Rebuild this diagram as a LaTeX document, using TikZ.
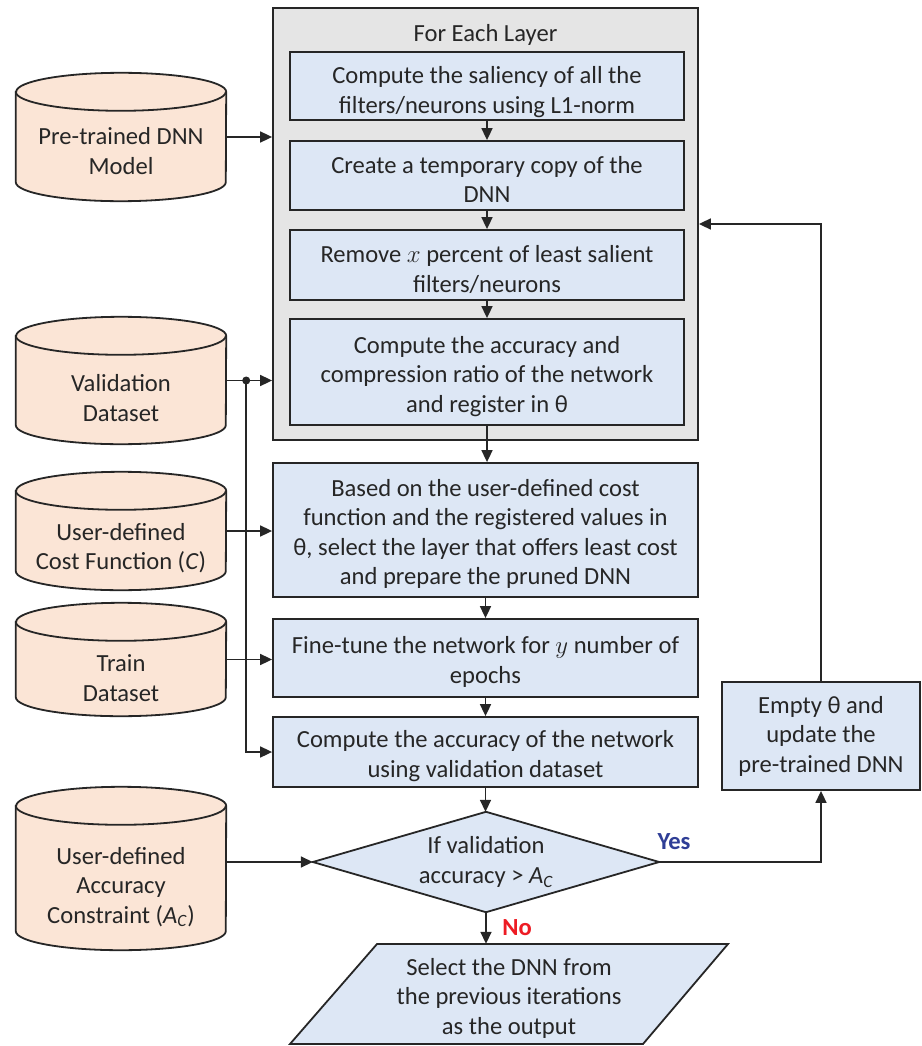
\documentclass[tikz,border=0pt]{standalone}
\usepackage{fontspec}
\setmainfont{Carlito}
\usetikzlibrary{arrows.meta}
\pgfdeclarelayer{bg}
\pgfsetlayers{bg,main}
\definecolor{bord}{HTML}{262626}
\definecolor{bfill}{HTML}{DDE7F5}
\definecolor{cfill}{HTML}{FBE5D6}
\definecolor{gfill}{HTML}{E5E5E5}
\definecolor{yescol}{HTML}{2F3E96}
\definecolor{nocol}{HTML}{ED1C24}
\newcommand\TT{\rule{0pt}{26pt}}
\newcommand\TTT{\rule{0pt}{30pt}}
\newcommand\DD{\rule[-5pt]{0pt}{5pt}}
\newcommand\drawcyl[1]{%
  \begin{pgfonlayer}{bg}
  \path[draw=bord,fill=cfill,line width=1.8pt]
    ([yshift=-19pt]#1.north west) -- ([yshift=19pt]#1.south west)
    arc[start angle=180,end angle=360,x radius=105pt,y radius=19pt]
    -- ([yshift=-19pt]#1.north east)
    arc[start angle=0,end angle=180,x radius=105pt,y radius=19pt] -- cycle;
  \draw[bord,line width=1.8pt] ([yshift=-19pt]#1.north west)
    arc[start angle=180,end angle=360,x radius=105pt,y radius=19pt];
  \end{pgfonlayer}}
\begin{document}
\begin{tikzpicture}[x=1pt,y=1pt,
  every node/.style={font=\fontsize{24.6}{29.5}\selectfont, text=bord},
  box/.style={draw=bord, fill=bfill, line width=1.8pt, align=center, inner sep=2pt},
  inbox/.style={box, minimum width=394pt},
  outbox/.style={box, minimum width=425pt},
  cylbody/.style={minimum width=210pt, inner sep=0pt, draw=none},
  ctext/.style={align=center, inner sep=0pt},
  arr/.style={draw=bord, line width=1.7pt, -{Triangle[length=12pt,width=11pt]}},
  lbl/.style={font=\fontsize{24.6}{29.5}\selectfont\bfseries}
]
\useasboundingbox (0,0) rectangle (921,-1046);

% outer layer box
\node[draw=bord, fill=gfill, line width=1.8pt, minimum width=425pt, minimum height=432pt, inner sep=0pt] (layer) at (485.5,-224) {};
\node[inner sep=0pt] (title) at (485.5,-35) {For Each Layer};

\node[inbox, minimum height=68pt] (b1) at (487,-86) {\TTT Compute the saliency of all the\\filters/neurons using L1-norm\DD};
\node[inbox, minimum height=69pt] (b2) at (487,-175.5) {\TTT Create a temporary copy of the\\DNN\DD};
\node[inbox, minimum height=70pt] (b3) at (487,-265) {\TTT Remove $x$ percent of least salient\\filters/neurons\DD};
\node[inbox, minimum height=106pt] (b4) at (487,-372) {\TT Compute the accuracy and\\compression ratio of the network\\and register in θ\DD};

\node[outbox, minimum height=134pt] (b5) at (485.5,-530) {\TT Based on the user-defined cost\\function and the registered values in\\θ, select the layer that offers least cost\\and prepare the pruned DNN\DD};
\node[outbox, minimum height=78pt] (b6) at (485.5,-658) {\TT Fine-tune the network for $y$ number of\\epochs\DD};
\node[outbox, minimum height=70pt] (b7) at (485.5,-752) {\TT Compute the accuracy of the network\\using validation dataset\DD};

% decision
\node[minimum width=346pt, minimum height=100pt, inner sep=0pt, align=center] (dia) at (486,-862) {If validation\\accuracy > \textit{A}\textsubscript{\textit{C}}};
\begin{pgfonlayer}{bg}
\draw[draw=bord, fill=bfill, line width=1.8pt] (dia.north) -- (dia.east) -- (dia.south) -- (dia.west) -- cycle;
\end{pgfonlayer}

% output parallelogram
\node[minimum width=300pt, minimum height=100pt, inner sep=0pt, align=center] (para) at (509,-994) {\TT Select the DNN from\\the previous iterations\\as the output\DD};
\begin{pgfonlayer}{bg}
\draw[draw=bord, fill=bfill, line width=1.8pt] (377,-944) -- (728,-944) -- (643,-1044) -- (290,-1044) -- cycle;
\end{pgfonlayer}

% update box
\node[box, minimum width=198pt, minimum height=108pt] (emp) at (821,-736) {Empty θ and\\update the\\pre-trained DNN};

% cylinders
\node[cylbody, minimum height=128pt] (c1) at (121,-137) {};
\drawcyl{c1}
\node[ctext] (c1t) at (121,-151) {Pre-trained DNN\\Model};
\node[cylbody, minimum height=127pt] (c2) at (121,-380.5) {};
\drawcyl{c2}
\node[ctext] (c2t) at (121,-398) {Validation\\Dataset};
\node[cylbody, minimum height=118pt] (c3) at (121,-531) {};
\drawcyl{c3}
\node[ctext] (c3t) at (121,-548) {User-defined\\Cost Function (\textit{C})};
\node[cylbody, minimum height=113pt] (c4) at (121,-659.5) {};
\drawcyl{c4}
\node[ctext] (c4t) at (121,-678) {Train\\Dataset};
\node[cylbody, minimum height=163pt] (c5) at (121,-868.5) {};
\drawcyl{c5}
\node[ctext] (c5t) at (121,-887) {User-defined\\Accuracy\\Constraint (\textit{A}\textsubscript{\textit{C}})};

% inner flow
\draw[arr] (b1.south) -- (b2.north);
\draw[arr] (b2.south) -- (b3.north);
\draw[arr] (b3.south) -- (b4.north);
\draw[arr] (b4.south) -- (b4.south |- b5.north);
\draw[arr] (b5.south) -- (b6.north);
\draw[arr] (b6.south) -- (b7.north);
\draw[arr] (b7.south) -- (b7.south |- dia.north);
\draw[arr] (dia.south) -- (dia.south |- para.north);
\draw[arr] (dia.east) -| (emp.south);
\draw[arr] (emp.north) |- (layer.east);

% inputs
\draw[arr] (c1.east) -- (c1.east -| layer.west);
\draw[arr] (c2.east) -- (c2.east -| layer.west);
\coordinate (j) at ([xshift=20pt]c2.east);
\fill[bord] (j) circle (4pt);
\draw[arr] (j) |- (b7.west);
\draw[arr] (c3.east) -- (c3.east -| b5.west);
\draw[arr] (c4.east) -- (c4.east -| b6.west);
\draw[arr] (c5.east |- dia.west) -- (dia.west);

% labels
\node[lbl, text=yescol, inner sep=0pt] (yes) at (674,-842) {Yes};
\node[lbl, text=nocol, inner sep=0pt] (no) at (517,-928) {No};
\end{tikzpicture}
\end{document}
